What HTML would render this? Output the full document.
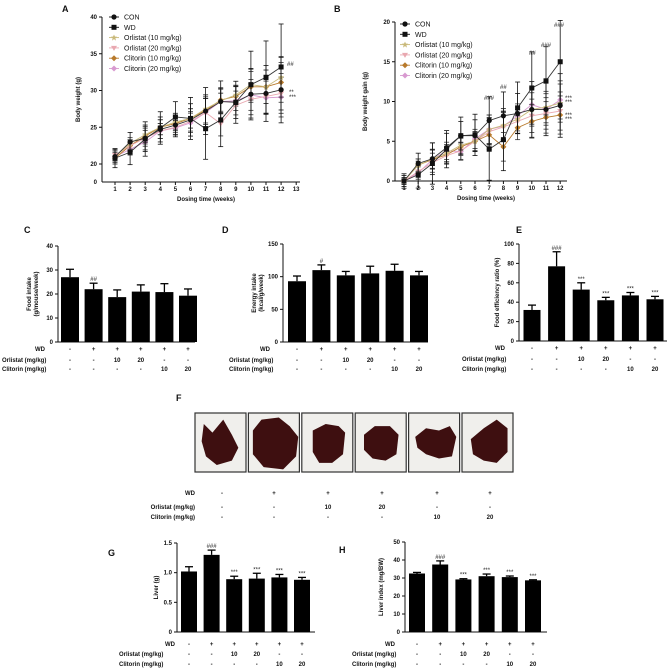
<!DOCTYPE html>
<html><head><meta charset="utf-8"><style>
html,body{margin:0;padding:0;background:#fff;}
svg{display:block;font-family:"Liberation Sans",Arial,sans-serif;}
.t{font-size:6px;font-weight:bold;fill:#111;}
.pl{font-size:9px;font-weight:bold;fill:#111;}
.lg{font-size:7px;fill:#111;}
.an{font-size:6px;fill:#222;}
</style></head><body>
<svg id="fig" width="669" height="669" viewBox="0 0 669 669" xmlns="http://www.w3.org/2000/svg"></svg>
<script>
// ---- Line chart data (A: body weight, B: body weight gain) ----
const weeks = [1,2,3,4,5,6,7,8,9,10,11,12];
const seriesNames = ["CON","WD","Orlistat (10 mg/kg)","Orlistat (20 mg/kg)","Clitorin (10 mg/kg)","Clitorin (20 mg/kg)"];
const aCON  = [21.0,23.0,23.5,24.7,25.3,26.0,27.2,28.5,28.4,29.5,29.6,30.1];
const aWD   = [20.8,21.6,23.4,24.9,26.4,26.2,24.8,26.0,28.4,30.8,31.8,33.2];
const aOrl10= [21.0,22.8,24.0,25.0,25.7,26.2,27.5,28.6,29.4,30.8,30.5,31.8];
const aOrl20= [21.2,22.5,23.5,24.5,25.0,25.8,27.0,25.5,28.0,28.8,29.2,29.6];
const aCli10= [20.8,22.5,23.8,25.0,25.5,26.2,27.3,28.7,29.2,30.5,30.5,31.1];
const aCli20= [21.0,22.0,23.0,24.5,24.9,25.6,27.0,28.5,28.6,29.4,29.0,29.1];
const aErr  = [1.0,1.3,1.8,1.7,1.6,2.2,3.2,2.8,2.2,3.5,3.8,4.5];
const bCON  = [0,2.2,2.8,4.2,5.7,5.7,7.6,8.2,8.5,9.0,9.0,9.5];
const bWD   = [0,0.8,2.2,4.0,5.7,5.8,4.0,5.2,9.2,11.7,12.6,15.0];
const bOrl10= [0,2.0,2.8,3.5,4.5,5.0,6.5,7.0,7.8,9.0,9.3,9.8];
const bOrl20= [0,1.2,2.3,3.2,3.8,5.0,6.2,6.8,7.5,8.2,8.5,8.8];
const bCli10= [0,2.0,2.7,3.3,4.3,5.0,5.8,4.3,6.7,7.5,8.0,8.3];
const bCli20= [0,1.0,2.7,3.8,3.7,5.3,6.5,6.9,8.2,9.6,9.0,10.2];
const bErr  = [0.7,1.3,2.0,1.8,1.8,2.0,3.0,3.0,2.5,3.5,3.3,4.0];
const aTicks = [20,25,30,35,40];
const bTicks = [0,5,10,15,20];
const xTicksA = [1,2,3,4,5,6,7,8,9,10,11,12,13];
// ---- Bar chart data ----
const cVals=[27,22,18.7,21,20.8,19.3], cErr=[3.3,2.5,3,2.8,3.5,2.8], cAnn=["","##","","","",""];
const dVals=[93,110,102,105,109,102], dErr=[8,8,6,11,10,6], dAnn=["","#","","","",""];
const eVals=[32,77,53,42,47,43], eErr=[5,15,7,3,3,3], eAnn=["","###","***","***","***","***"];
const gVals=[1.02,1.30,0.89,0.90,0.92,0.88], gErr=[0.08,0.08,0.05,0.09,0.05,0.04], gAnn=["","###","***","***","***","***"];
const hVals=[32.5,37.5,29.2,31,30.5,28.7], hErr=[0.6,2,0.4,1.2,0.6,0.3], hAnn=["","###","***","***","***","***"];
const cTicks=[0,10,20,30,40], dTicks=[0,50,100,150], eTicks=[0,20,40,60,80,100], gTicks=[0,0.5,1.0,1.5], hTicks=[0,10,20,30,40,50];
const rowWD=["-","+","+","+","+","+"], rowOrl=["-","-","10","20","-","-"], rowCli=["-","-","-","-","10","20"];

const NS="http://www.w3.org/2000/svg", svg=document.getElementById('fig');
function el(tag,attrs,parent,txt){const e=document.createElementNS(NS,tag);for(const k in attrs)e.setAttribute(k,attrs[k]);if(txt!==undefined)e.textContent=txt;(parent||svg).appendChild(e);return e;}
function txt(x,y,s,cls,anchor,parent,rot){const t=el('text',{x:x,y:y,class:cls,'text-anchor':anchor||'start'},parent,s);if(rot)t.setAttribute('transform','rotate(-90 '+x+' '+y+')');return t;}
function line(x1,y1,x2,y2,p,w,c){return el('line',{x1:x1,y1:y1,x2:x2,y2:y2,stroke:c||'#111','stroke-width':w||1},p);}

[["A",62,12],["B",334,12],["C",24,233],["D",222,233],["E",516,233],["F",176,401],["G",108,556],["H",339,553]].forEach(a=>{
  const t=txt(a[1],a[2],a[0],'pl');
  
  
});

const colors=["#111","#111","#c9b97a","#e9a8b0","#b87a2c","#d89ad0"];
const shapes=["circle","square","star","tri","diamond","diamond"];
function marker(g,x,y,s,c){
  if(s==="circle")el('circle',{cx:x,cy:y,r:2.6,fill:c},g);
  else if(s==="square")el('rect',{x:x-2.5,y:y-2.5,width:5,height:5,fill:c},g);
  else if(s==="star")el('polygon',{points:`${x},${y-3} ${x+1},${y-1} ${x+3},${y-1} ${x+1.4},${y+0.6} ${x+2},${y+3} ${x},${y+1.5} ${x-2},${y+3} ${x-1.4},${y+0.6} ${x-3},${y-1} ${x-1},${y-1}`,fill:c},g);
  else if(s==="tri")el('polygon',{points:`${x-3},${y-2} ${x+3},${y-2} ${x},${y+3}`,fill:c},g);
  else el('polygon',{points:`${x},${y-3} ${x+3},${y} ${x},${y+3} ${x-3},${y}`,fill:c},g);
}

function lineChart(o){
  const g=el('g',{});
  
  
  const sx=v=>o.x1+(v-1)*o.step;
  const sy=v=>o.yBot-(v-o.ymin)/(o.ymax-o.ymin)*(o.yBot-o.yTop);
  line(o.ax,o.yTop,o.ax,o.axY,g,1);
  line(o.ax,o.axY,o.axEnd,o.axY,g,1);
  o.yticks.forEach(v=>{line(o.ax-3,sy(v),o.ax,sy(v),g,1);txt(o.ax-5,sy(v)+2,String(v),'t','end',g);});
  if(o.zeroLabel){txt(o.ax-5,o.axY+2,"0",'t','end',g);}
  o.xticks.forEach(v=>{line(sx(v),o.axY,sx(v),o.axY+3,g,1);txt(sx(v),o.axY+9,String(v),'t','middle',g);});
  const yl=txt(o.ylx,(o.yTop+o.axY)/2,o.ylabel,'t','middle',g,true);
  
  const xl=txt((o.ax+o.axEnd)/2+5,o.axY+19,"Dosing time (weeks)",'t','middle',g);
  
  for(let s=o.series.length-1;s>=0;s--){
    const sg=el('g',{},g);
    
    
    const d=o.series[s];
    const c=colors[s];
    const ec=s<2?'#111':'#333';
    const em=(s===1)?1.3:(s===0?1.0:0.6);
    weeks.forEach((w,i)=>{
      const e=o.err[i]*em;
      line(sx(w),sy(d[i]-e),sx(w),sy(d[i]+e),sg,0.8,ec);
      line(sx(w)-2.5,sy(d[i]+e),sx(w)+2.5,sy(d[i]+e),sg,0.8,ec);
      line(sx(w)-2.5,sy(d[i]-e),sx(w)+2.5,sy(d[i]-e),sg,0.8,ec);
    });
    el('polyline',{points:weeks.map((w,i)=>sx(w)+','+sy(d[i])).join(' '),fill:'none',stroke:s<2?'#333':c,'stroke-width':0.9},sg);
    weeks.forEach((w,i)=>marker(sg,sx(w),sy(d[i]),shapes[s],c));
  }
  seriesNames.forEach((n,i)=>{
    const lg=el('g',{},g);
    
    
    const y=o.legY+i*10.3;
    line(o.legX-5,y,o.legX+5,y,lg,0.9,i<2?'#111':colors[i]);
    marker(lg,o.legX,y,shapes[i],colors[i]);
    txt(o.legX+10,y+2.5,n,'lg','start',lg);
  });
  (o.ann||[]).forEach(a=>txt(a[0],a[1],a[2],'an','start',g));
}

lineChart({name:'chart-a-body-weight',x1:115,step:15.1,ymin:20,ymax:40,yBot:164,yTop:17,ax:102,axY:182,axEnd:300,
  yticks:aTicks,xticks:xTicksA,zeroLabel:true,ylx:80,ylabel:"Body weight (g)",
  series:[aCON,aWD,aOrl10,aOrl20,aCli10,aCli20],err:aErr,legX:114,legY:17,
  ann:[[287,66,"##"],[289,94,"**"],[289,99,"***"]]});
lineChart({name:'chart-b-weight-gain',x1:404,step:14.2,ymin:0,ymax:20,yBot:181,yTop:22,ax:395,axY:181,axEnd:567,
  yticks:bTicks,xticks:weeks,zeroLabel:false,ylx:367,ylabel:"Body weight gain (g)",
  series:[bCON,bWD,bOrl10,bOrl20,bCli10,bCli20],err:bErr,legX:405,legY:24,
  ann:[[484,100,"###"],[500,89,"##"],[529,55,"##"],[541,47,"###"],[554,27,"###"],[565,100,"***"],[565,104,"***"],[565,117,"***"],[565,121,"***"]]});

function barChart(o){
  const g=el('g',{});
  
  
  const sy=v=>o.y0-v/o.vmax*(o.y0-o.yTop);
  line(o.ax,o.yTop,o.ax,o.y0,g,1);
  line(o.ax,o.y0,o.axEnd,o.y0,g,1);
  o.ticks.forEach(v=>{line(o.ax-3,sy(v),o.ax,sy(v),g,1);txt(o.ax-5,sy(v)+2,String(v===1?"1.0":v),'t','end',g);});
  o.vals.forEach((v,i)=>{
    const cx=o.first+i*o.step;
    const b=el('rect',{x:cx-o.w/2,y:sy(v),width:o.w,height:o.y0-sy(v),fill:'#000'},g);
    
    
    const top=sy(v+o.err[i]);
    line(cx,sy(v),cx,top,g,1.3,'#000');
    line(cx-4,top,cx+4,top,g,1.3,'#000');
    if(o.ann[i])txt(cx,top-2,o.ann[i],'an','middle',g);
    txt(cx,o.rowY[0]+2,rowWD[i],'t','middle',g);
    txt(cx,o.rowY[1]+2,rowOrl[i],'t','middle',g);
    txt(cx,o.rowY[2]+2,rowCli[i],'t','middle',g);
  });
  txt(o.wdX,o.rowY[0]+2,"WD",'t','end',g);
  txt(o.lblX,o.rowY[1]+2,"Orlistat (mg/kg)",'t','start',g);
  txt(o.lblX,o.rowY[2]+2,"Clitorin (mg/kg)",'t','start',g);
  o.ylabel.forEach((s,k)=>{const t=txt(o.ylx+k*7,(o.yTop+o.y0)/2,s,'t','middle',g,true);
    });
}
barChart({name:'chart-c-food-intake',ax:58,y0:342,yTop:246,vmax:40,axEnd:195,first:70,step:23.6,w:18,ticks:cTicks,vals:cVals,err:cErr,ann:cAnn,rowY:[349,360,369],wdX:45,lblX:2,ylabel:["Food intake","(g/mouse/week)"],ylx:31});
barChart({name:'chart-d-energy-intake',ax:283,y0:342,yTop:244,vmax:150,axEnd:428,first:297,step:24.4,w:18,ticks:dTicks,vals:dVals,err:dErr,ann:dAnn,rowY:[349,360,369],wdX:270,lblX:229,ylabel:["Energy intake","(kcal/g/week)"],ylx:256});
barChart({name:'chart-e-food-efficiency',ax:519,y0:341,yTop:244,vmax:100,axEnd:667,first:532,step:24.6,w:17,ticks:eTicks,vals:eVals,err:eErr,ann:eAnn,rowY:[348,359,369],wdX:505,lblX:462,ylabel:["Food efficiency ratio (%)"],ylx:499});
barChart({name:'chart-g-liver-weight',ax:177,y0:632,yTop:543,vmax:1.5,axEnd:315,first:189,step:22.6,w:16,ticks:gTicks,vals:gVals,err:gErr,ann:gAnn,rowY:[644,654,664],wdX:175,lblX:119,ylabel:["Liver (g)"],ylx:158});
barChart({name:'chart-h-liver-index',ax:405,y0:632,yTop:542,vmax:50,axEnd:547,first:417,step:23.2,w:16,ticks:hTicks,vals:hVals,err:hErr,ann:hAnn,rowY:[644,654,664],wdX:395,lblX:352,ylabel:["Liver index (mg/BW)"],ylx:383});

const fg=el('g',{});


const blobs=[
 "M10,12 L18,20 L28,8 L36,22 L42,34 L36,46 L22,50 L12,42 L8,28 Z",
 "M6,18 L14,8 L30,6 L40,14 L48,24 L46,42 L34,54 L16,52 L6,40 Z",
 "M12,18 L24,12 L36,14 L42,20 L40,40 L30,48 L18,48 L12,38 Z",
 "M10,22 L20,14 L34,14 L42,22 L40,40 L30,46 L18,44 L10,36 Z",
 "M8,24 L18,16 L30,18 L40,14 L46,24 L42,42 L30,44 L18,40 L10,34 Z",
 "M10,26 L22,16 L34,8 L44,16 L44,38 L34,48 L22,46 L12,40 Z"];
const fCols=[222,274,328,382,437,490];
fCols.forEach((cx,i)=>{
  const x=195+i*53.4;
  const pg=el('g',{},fg);
  
  
  el('rect',{x:x,y:413,width:51,height:59,fill:'#f0efec',stroke:'#333','stroke-width':1.2},pg);
  el('path',{d:blobs[i],fill:'#3e0f10',transform:`translate(${x-2} 411) scale(1.08)`},pg);
  txt(cx,495,rowWD[i],'t','middle',fg);
  txt(cx,509,rowOrl[i],'t','middle',fg);
  txt(cx,519,rowCli[i],'t','middle',fg);
});
txt(195,495,"WD",'t','end',fg);
txt(195,509,"Orlistat (mg/kg)",'t','end',fg);
txt(195,519,"Clitorin  (mg/kg)",'t','end',fg);
</script>
</body></html>
